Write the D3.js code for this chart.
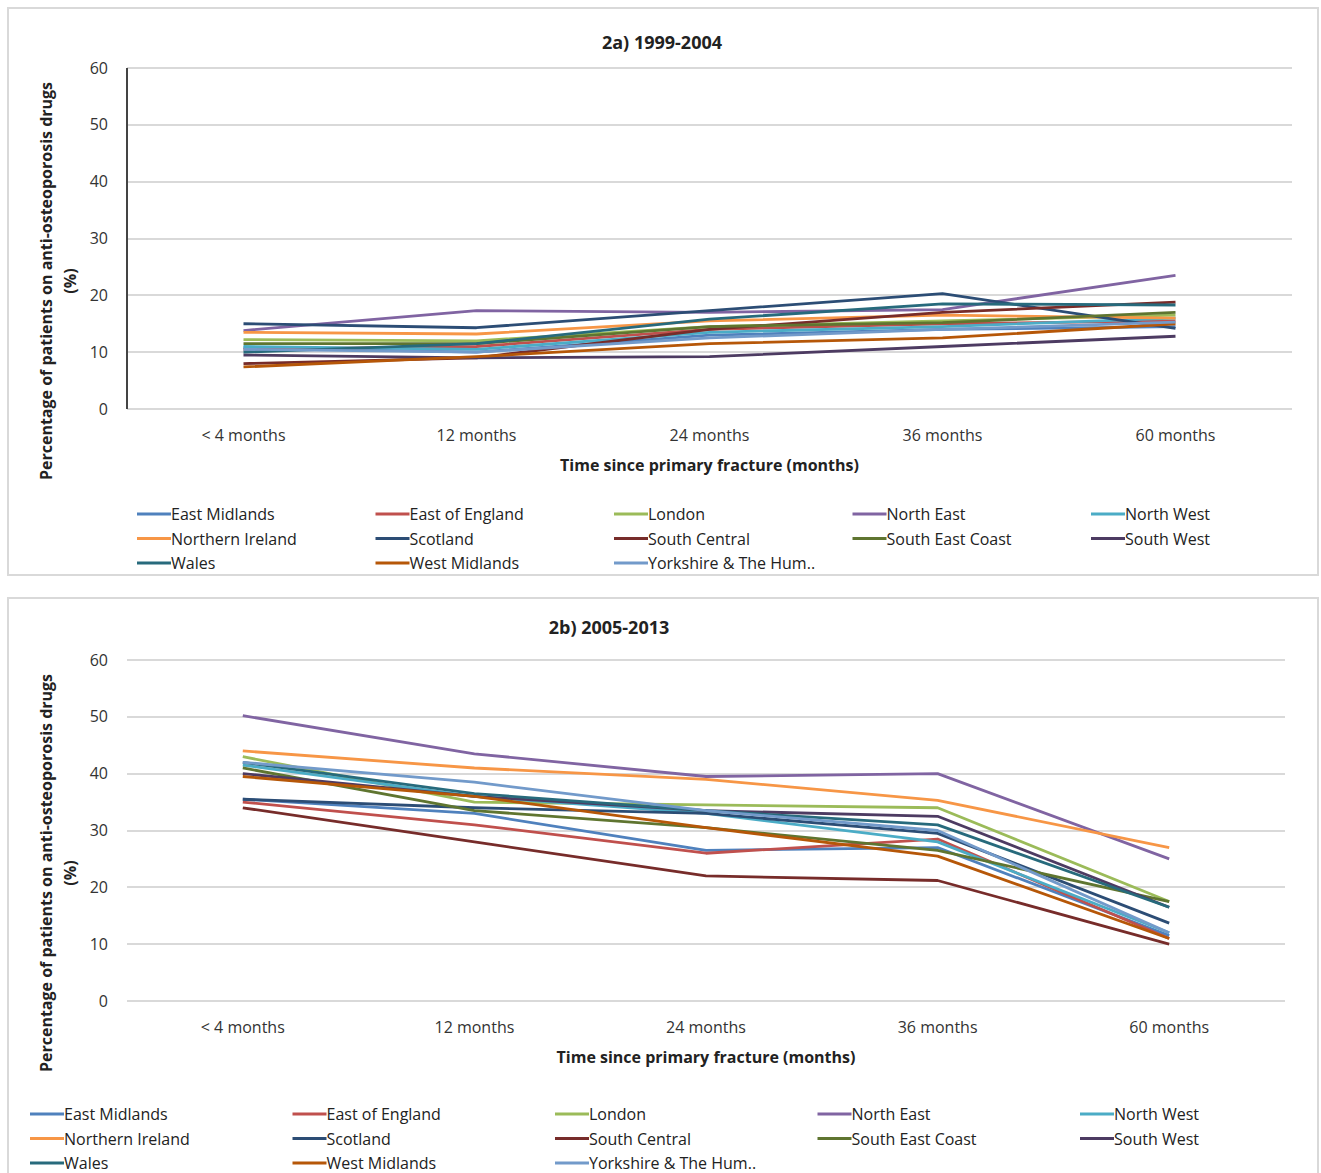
<!DOCTYPE html>
<html>
<head>
  <title>Anti-osteoporosis drugs by region</title>
  <style>
  body {
    margin: 0;
    background: #fff;
    font-family: "Open Sans", sans-serif;
  }

  .panel {
    fill: #fff;
    stroke: #d9d9d9;
    stroke-width: 2;
  }

  .grid line {
    stroke: #d9d9d9;
    stroke-width: 2;
    shape-rendering: crispedges;
  }

  .title {
    font-weight: bold;
    font-size: 18px;
    fill: #222;
    text-anchor: middle;
  }

  .tick text {
    font-family: "Open Sans", sans-serif;
    font-size: 16px;
    fill: #333;
  }

  .ylab, .xlab {
    font-weight: bold;
    font-size: 16px;
    fill: #222;
    text-anchor: middle;
  }

  .series {
    fill: none;
    stroke-width: 2.8;
    stroke-linejoin: round;
  }

  .legend text {
    font-size: 16px;
    fill: #222;
  }
  </style>
  <script src="https://cdn.jsdelivr.net/npm/d3@7"></script>
</head>
<body>
<div id="container"></div>
<script>
var regions = ["East Midlands", "East of England", "London", "North East", "North West",
  "Northern Ireland", "Scotland", "South Central", "South East Coast", "South West",
  "Wales", "West Midlands", "Yorkshire & The Hum.."]

var colors = ["#4f81bd", "#c0504d", "#9bbb59", "#8064a2", "#4bacc6",
  "#f79646", "#2c4d75", "#772c2a", "#5f7530", "#4d3b62",
  "#276a7c", "#b65708", "#729aca"]

var timepoints = ["< 4 months", "12 months", "24 months", "36 months", "60 months"]
var yTicks = [0, 10, 20, 30, 40, 50, 60]

// 2a) 1999-2004, one row per region
var values1999 = [
  [10.8, 10.0, 13.0, 14.0, 14.5],
  [10.5, 11.0, 14.0, 15.0, 15.5],
  [12.2, 12.0, 14.5, 15.5, 16.5],
  [13.8, 17.3, 17.0, 17.5, 23.5],
  [11.0, 10.5, 13.5, 14.5, 16.0],
  [13.5, 13.2, 15.5, 16.5, 16.0],
  [15.0, 14.3, 17.3, 20.3, 14.2],
  [8.0, 9.0, 14.0, 17.0, 18.8],
  [11.5, 11.5, 14.5, 15.2, 17.0],
  [9.5, 9.0, 9.2, 11.0, 12.8],
  [10.0, 11.5, 15.8, 18.5, 18.3],
  [7.4, 9.2, 11.5, 12.5, 15.0],
  [10.5, 10.0, 12.5, 14.0, 15.3]
]

// 2b) 2005-2013
var values2005 = [
  [35.5, 33.0, 26.5, 27.0, 11.5],
  [35.0, 31.0, 26.0, 28.5, 11.0],
  [43.0, 35.0, 34.5, 34.0, 17.5],
  [50.2, 43.5, 39.5, 40.0, 25.0],
  [41.5, 36.0, 33.0, 28.0, 12.0],
  [44.0, 41.0, 39.0, 35.3, 27.0],
  [35.5, 34.0, 33.0, 29.5, 13.7],
  [34.0, 28.0, 22.0, 21.2, 10.0],
  [41.0, 33.5, 30.5, 26.5, 17.5],
  [40.0, 36.0, 33.5, 32.5, 16.5],
  [42.0, 36.5, 33.5, 31.0, 16.5],
  [39.5, 36.0, 30.5, 25.5, 11.0],
  [42.0, 38.5, 33.5, 30.0, 12.0]
]

var svg = d3.select("#container").append("svg")
  .attr("width", 1321)
  .attr("height", 1173)

function drawChart(cfg) {
  var g = svg.append("g")

  g.append("rect")
    .attr("class", "panel")
    .attr("x", 8)
    .attr("y", cfg.panelTop)
    .attr("width", 1310)
    .attr("height", cfg.panelH)

  g.append("text")
    .attr("class", "title")
    .attr("x", cfg.titleX)
    .attr("y", cfg.titleY)
    .text(cfg.title)

  var x = d3.scaleBand()
    .domain(timepoints)
    .range([cfg.left, cfg.right])

  var y = d3.scaleLinear()
    .domain([0, 60])
    .range([cfg.top + 401, cfg.top + 60])

  // gridlines
  g.append("g")
    .attr("class", "grid")
    .selectAll("line")
    .data(yTicks)
  .enter().append("line")
    .attr("x1", cfg.left)
    .attr("x2", cfg.right)
    .attr("y1", function(d) { return Math.round(y(d)) })
    .attr("y2", function(d) { return Math.round(y(d)) })

  var yax = d3.axisLeft(y)
    .tickValues(yTicks)
    .tickSize(0)
    .tickPadding(19)

  var ya = g.append("g")
    .attr("transform", "translate(" + cfg.left + ",0)")
    .call(yax)
  ya.select(".domain").remove()

  if (cfg.axisLine) {
    g.append("line")
      .attr("x1", cfg.left)
      .attr("x2", cfg.left)
      .attr("y1", y(60))
      .attr("y2", y(0))
      .attr("stroke", "#444")
      .attr("stroke-width", 2)
  }

  var xax = d3.axisBottom(x)
    .tickSize(0)
    .tickPadding(21)

  var xa = g.append("g")
    .attr("transform", "translate(0," + y(0) + ")")
    .call(xax)
  xa.select(".domain").remove()

  g.append("text")
    .attr("class", "xlab")
    .attr("x", (cfg.left + cfg.right) / 2)
    .attr("y", cfg.top + 463)
    .text("Time since primary fracture (months)")

  var ymid = cfg.top + 273
  g.append("text")
    .attr("class", "ylab")
    .attr("transform", "translate(52," + ymid + ") rotate(-90)")
    .text("Percentage of patients on anti-osteoporosis drugs")
  g.append("text")
    .attr("class", "ylab")
    .attr("transform", "translate(76," + ymid + ") rotate(-90)")
    .text("(%)")

  var line = d3.line()
    .x(function(d, i) { return x(timepoints[i]) + x.bandwidth() / 2 })
    .y(function(d) { return y(d) })

  g.selectAll(".series")
    .data(cfg.values)
  .enter().append("path")
    .attr("class", "series")
    .attr("stroke", function(d, i) { return colors[i] })
    .attr("d", line)

  var legend = g.selectAll(".legend")
    .data(regions)
  .enter().append("g")
    .attr("class", "legend")
    .attr("transform", function(d, i) {
      var col = i % 5, row = Math.floor(i / 5)
      return "translate(" + (cfg.legX + col * cfg.legStep) + "," + (cfg.legY + row * 24.5) + ")"
    })

  legend.append("line")
    .attr("x1", 0)
    .attr("x2", 34)
    .attr("stroke", function(d, i) { return colors[i] })
    .attr("stroke-width", 3)

  legend.append("text")
    .attr("x", 34)
    .attr("y", 6)
    .text(function(d) { return d })
}

drawChart({
  title: "2a) 1999-2004",
  values: values1999,
  top: 8,
  panelTop: 8,
  panelH: 567,
  titleX: 662,
  titleY: 49,
  left: 127,
  right: 1292,
  axisLine: true,
  legX: 137,
  legStep: 238.5,
  legY: 514
})

drawChart({
  title: "2b) 2005-2013",
  values: values2005,
  top: 600,
  panelTop: 598,
  panelH: 600,
  titleX: 609,
  titleY: 634,
  left: 127,
  right: 1285,
  axisLine: false,
  legX: 30,
  legStep: 262.5,
  legY: 1114
})
</script>
</body>
</html>
